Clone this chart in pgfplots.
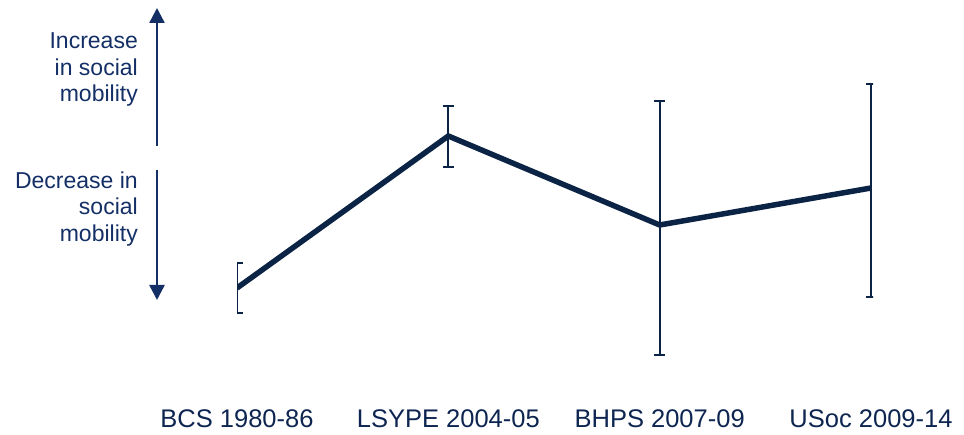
\documentclass[border=0pt]{standalone}
\usepackage{pgfplots}
\pgfplotsset{compat=1.18}
\usepackage{fontspec}
\setmainfont{Liberation Sans}
\usetikzlibrary{arrows.meta}
\definecolor{navyline}{HTML}{0B2446}
\definecolor{navytext}{HTML}{132F66}
\definecolor{navylabel}{HTML}{0D2550}

\begin{document}
\begin{tikzpicture}[x=1bp,y=1bp]
\path[use as bounding box] (0,0) rectangle (964,435);
\begin{axis}[
  at={(237bp,35bp)}, anchor=south west,
  scale only axis, width=636.1bp, height=400bp,
  xmin=0, xmax=3.01, ymin=0.35, ymax=4.35,
  axis line style={draw=none},
  major tick length=0pt,
  ytick=\empty,
  xtick={0,1,2,3},
  xticklabels={BCS 1980-86, LSYPE 2004-05, BHPS 2007-09, USoc 2009-14},
  xticklabel style={anchor=base, yshift=-28bp, text=navylabel,
    font=\fontsize{25.5bp}{30bp}\selectfont},
]
\addplot[navyline, line width=5.5bp, mark=none,
  error bars/.cd, y dir=both, y explicit,
  error bar style={line width=2bp, navyline},
  error mark options={rotate=90, mark size=5.5bp, line width=2bp, navyline}]
  coordinates {
    (0,1.47) += (0,0.25) -= (0,0.25)
    (1,2.99) += (0,0.30) -= (0,0.31)
    (2,2.10) += (0,1.24) -= (0,1.30)
    (3,2.47) += (0,1.04) -= (0,1.09)
  };
\end{axis}
% direction arrows
\draw[navytext, line width=2.5bp, -{Triangle[width=15bp,length=15bp]}] (157,289) -- (157,427);
\draw[navytext, line width=2.5bp, -{Triangle[width=15bp,length=15bp]}] (157,265) -- (157,135);
\begin{scope}[every node/.style={anchor=base east, inner sep=0pt, text=navytext,
    font=\fontsize{23bp}{27bp}\selectfont}]
  \node at (138,386) {Increase};
  \node at (138,359) {in social};
  \node at (138,333) {mobility};
  \node at (138,246) {Decrease in};
  \node at (138,220) {social};
  \node at (138,193) {mobility};
\end{scope}
\end{tikzpicture}
\end{document}
